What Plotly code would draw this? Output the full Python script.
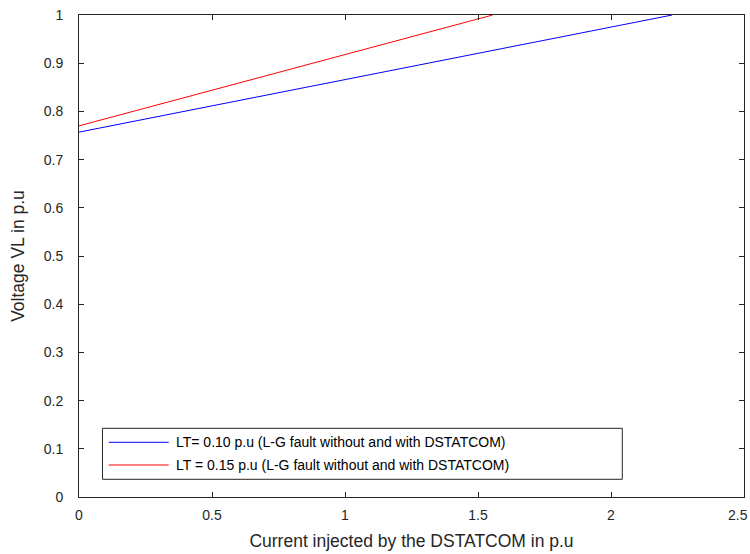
import plotly.graph_objects as go

# Data
blue_x = [0.0, 2.23]
blue_y = [0.757, 1.0]
red_x = [0.0, 1.555]
red_y = [0.770, 1.0]
names = ["LT= 0.10 p.u (L-G fault without and with DSTATCOM)",
         "LT = 0.15 p.u (L-G fault without and with DSTATCOM)"]
colors = ["#0000ff", "#ff0000"]
x_tickvals = [0, 0.5, 1, 1.5, 2, 2.5]
x_ticktext = ["0", "0.5", "1", "1.5", "2", "2.5"]

fig = go.Figure()
fig.add_trace(go.Scatter(x=blue_x, y=blue_y, mode="lines", name=names[0],
                         line=dict(color=colors[0], width=1), showlegend=False))
fig.add_trace(go.Scatter(x=red_x, y=red_y, mode="lines", name=names[1],
                         line=dict(color=colors[1], width=1), showlegend=False))

axcol = "#262626"
font = dict(family="Liberation Sans, Arial, sans-serif", size=14, color=axcol)

fig.update_layout(
    width=750, height=554,
    margin=dict(l=78.5, r=5.5, t=15, b=57, autoexpand=False),
    paper_bgcolor="white", plot_bgcolor="white",
    font=font,
    xaxis=dict(range=[0, 2.5], tickvals=x_tickvals,
               ticktext=x_ticktext[:-1] + [""],
               ticks="inside", ticklen=5,
               tickcolor=axcol, showline=True, linecolor=axcol, linewidth=1,
               mirror="ticks", showgrid=False, zeroline=False, automargin=False,
               ticklabelstandoff=5,
               title=dict(text="Current injected by the DSTATCOM in p.u",
                          font=dict(size=17.5, color=axcol), standoff=12)),
    yaxis=dict(range=[0, 1], dtick=0.1, tick0=0, ticks="inside", ticklen=5,
               tickcolor=axcol, showline=True, linecolor=axcol, linewidth=1,
               mirror="ticks", showgrid=False, zeroline=False, automargin=False,
               ticklabelstandoff=12,
               title=dict(text="Voltage VL in p.u",
                          font=dict(size=17.5, color=axcol), standoff=14)),
)

# last x tick label kept inside the page (as in the reference, flush with the right edge)
fig.add_annotation(xref="x", yref="paper", x=x_tickvals[-1], y=0, text=x_ticktext[-1],
                   showarrow=False, xanchor="right", yanchor="top",
                   xshift=5.5, yshift=-8, font=dict(size=14, color=axcol))

# Legend box (MATLAB style)
lx0, lx1, ly0, ly1 = 0.0353, 0.817, 0.0367, 0.1425
fig.add_shape(type="rect", xref="paper", yref="paper", x0=lx0, x1=lx1, y0=ly0, y1=ly1,
              line=dict(color=axcol, width=1), fillcolor="white", layer="above")
rows_y = [0.1135, 0.0664]
for name, col, yy in zip(names, colors, rows_y):
    fig.add_shape(type="line", xref="paper", yref="paper", x0=0.0447, x1=0.1349,
                  y0=yy, y1=yy, line=dict(color=col, width=1), layer="above")
    fig.add_annotation(xref="paper", yref="paper", x=0.1434, y=yy, text=name,
                       showarrow=False, xanchor="left", yanchor="middle",
                       font=dict(size=14, color="black"))

fig.write_html("out.html")
